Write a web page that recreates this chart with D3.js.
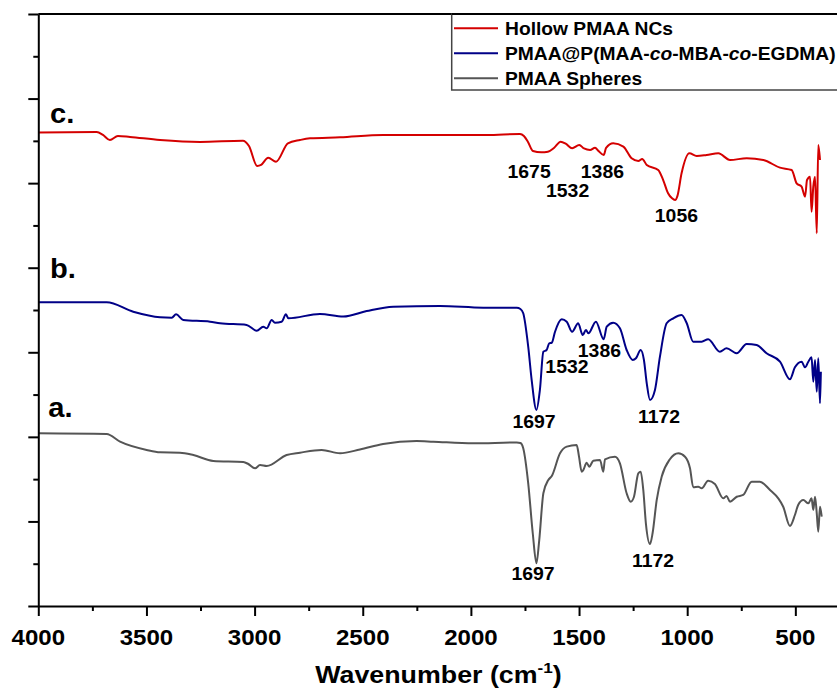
<!DOCTYPE html>
<html>
<head>
<meta charset="utf-8">
<script src="https://cdn.jsdelivr.net/npm/d3@7"></script>
<style>
  html, body { margin: 0; padding: 0; background: #fff; overflow: hidden; }
  svg { display: block; font-family: "Liberation Sans", Arial, Helvetica, sans-serif; }
</style>
</head>
<body>
<svg id="chart" width="837" height="693"></svg>
<script>
// ---- FTIR spectra: [wavenumber (cm-1), transmittance (a.u., stacked offset)] ----
const hollowNCs = [
  [4000,5.600],[3730,5.605],[3701,5.570],[3669,5.510],[3632,5.558],[3576,5.546],[3437,5.510],
  [3252,5.487],[3054,5.502],[3026,5.439],[2988,5.203],[2970,5.215],[2937,5.301],[2901,5.254],
  [2846,5.471],[2790,5.510],[2744,5.530],[2605,5.542],[2406,5.569],[2175,5.569],[1926,5.569],
  [1773,5.581],[1755,5.558],[1736,5.487],[1713,5.380],[1675,5.365],[1644,5.372],[1616,5.416],
  [1585,5.490],[1560,5.463],[1532,5.412],[1499,5.451],[1477,5.410],[1449,5.392],[1426,5.419],
  [1410,5.380],[1386,5.333],[1375,5.416],[1342,5.471],[1295,5.431],[1257,5.294],[1226,5.262],
  [1208,5.286],[1187,5.215],[1134,5.155],[1111,5.037],[1089,4.884],[1070,4.820],[1056,4.800],
  [1045,4.850],[1026,5.116],[990,5.353],[956,5.321],[910,5.333],[856,5.353],[802,5.274],
  [725,5.294],[648,5.274],[571,5.183],[517,5.155],[494,4.998],[471,4.958],[455,4.840],
  [446,5.037],[432,5.076],[425,4.662],[417,4.958],[409,5.076],[401,4.407],[394,5.451],[386,5.274]
];
const coreShell = [
  [4000,3.591],[3684,3.591],[3561,3.480],[3437,3.414],[3383,3.409],[3363,3.449],[3330,3.382],
  [3206,3.362],[3160,3.343],[3037,3.323],[2990,3.255],[2960,3.303],[2944,3.284],[2921,3.382],
  [2906,3.350],[2875,3.362],[2855,3.449],[2844,3.402],[2698,3.453],[2590,3.423],[2482,3.488],
  [2359,3.539],[2143,3.547],[1943,3.527],[1788,3.527],[1771,3.512],[1758,3.461],[1735,3.066],
  [1719,2.672],[1697,2.318],[1681,2.554],[1665,3.007],[1650,3.027],[1638,3.106],[1626,3.113],
  [1611,3.243],[1580,3.390],[1557,3.362],[1532,3.243],[1504,3.343],[1483,3.204],[1468,3.264],
  [1457,3.224],[1422,3.362],[1386,3.154],[1372,3.303],[1342,3.350],[1311,3.284],[1280,3.027],
  [1252,2.909],[1237,2.929],[1215,3.027],[1200,2.909],[1187,2.633],[1172,2.436],[1149,2.554],
  [1126,2.948],[1095,3.343],[1064,3.402],[1026,3.441],[1002,3.343],[972,3.125],[933,3.125],
  [903,3.154],[849,3.007],[818,3.047],[771,2.988],[725,3.098],[679,3.086],[633,2.988],
  [571,2.889],[525,2.681],[502,2.822],[471,2.889],[455,2.822],[440,2.889],[425,2.941],
  [417,2.652],[409,2.909],[401,2.534],[394,2.929],[386,2.397],[382,2.770]
];
const pmaaSpheres = [
  [4000,2.042],[3684,2.034],[3622,1.943],[3499,1.845],[3437,1.817],[3345,1.813],[3283,1.785],
  [3191,1.715],[3052,1.703],[3029,1.679],[2998,1.628],[2975,1.667],[2944,1.655],[2852,1.785],
  [2790,1.813],[2690,1.845],[2605,1.806],[2513,1.851],[2406,1.916],[2251,1.951],[2174,1.943],
  [1989,1.924],[1788,1.933],[1771,1.927],[1758,1.865],[1735,1.451],[1714,0.860],[1697,0.505],
  [1684,0.780],[1665,1.333],[1642,1.490],[1626,1.537],[1588,1.806],[1557,1.884],[1511,1.904],
  [1500,1.765],[1488,1.588],[1480,1.608],[1465,1.694],[1453,1.647],[1434,1.718],[1403,1.726],
  [1388,1.588],[1380,1.735],[1334,1.765],[1311,1.687],[1280,1.333],[1261,1.233],[1246,1.292],
  [1226,1.569],[1215,1.588],[1203,1.372],[1191,0.978],[1172,0.733],[1160,0.860],[1141,1.253],
  [1118,1.529],[1080,1.735],[1041,1.806],[1010,1.765],[987,1.628],[972,1.404],[949,1.411],
  [933,1.392],[903,1.482],[872,1.443],[833,1.273],[818,1.301],[802,1.233],[771,1.292],
  [741,1.313],[702,1.470],[664,1.470],[617,1.372],[579,1.273],[556,1.174],[525,0.946],
  [502,1.076],[487,1.194],[463,1.253],[440,1.214],[425,1.273],[417,1.135],[409,1.292],
  [401,1.096],[394,0.879],[386,1.174],[378,1.056]
];

const seriesNames  = ["Hollow PMAA NCs", "PMAA@P(MAA-co-MBA-co-EGDMA)", "PMAA Spheres"];
const seriesColors = ["#d40000", "#000087", "#555555"];
const seriesData   = [hollowNCs, coreShell, pmaaSpheres];

// trace tags, placed at [wavenumber, transmittance]
const traceTags = [
  { text: "c.", at: [3946, 5.715] },
  { text: "b.", at: [3946, 3.875] },
  { text: "a.", at: [3954, 2.238] }
];

// band assignments (cm-1) and where their labels sit
const peakLabels = [
  { text: "1675", at: [1731, 5.057] },
  { text: "1532", at: [1553, 4.840] },
  { text: "1386", at: [1392, 5.057] },
  { text: "1056", at: [1050, 4.544] },
  { text: "1697", at: [1708, 2.101] },
  { text: "1532", at: [1556, 2.752] },
  { text: "1386", at: [1406, 2.948] },
  { text: "1172", at: [1130, 2.167] },
  { text: "1697", at: [1713, 0.307] },
  { text: "1172", at: [1158, 0.465] }
];

const xMajorTicks = [4000, 3500, 3000, 2500, 2000, 1500, 1000, 500];
const xMinorTicks = [3750, 3250, 2750, 2250, 1750, 1250, 750];
const yMajorTicks = [0, 1, 2, 3, 4, 5, 6, 7];
const yMinorTicks = [0.5, 1.5, 2.5, 3.5, 4.5, 5.5, 6.5];

(function draw() {
  const svg = d3.select("#chart");
  const plotLeft = 38.3, plotRight = 838.6, plotTop = 14, plotBottom = 606;

  const x = d3.scaleLinear().domain([4000, 300]).range([plotLeft, plotRight]);
  const y = d3.scaleLinear().domain([0, 7]).range([plotBottom, plotTop]);

  const FONT = '"Liberation Sans", Arial, Helvetica, sans-serif';

  function stretchedText(parent, px, py, sx) {
    return parent.append("text")
      .attr("transform", `translate(${px},${py}) scale(${sx},1)`)
      .attr("font-family", FONT)
      .attr("font-weight", "bold")
      .attr("fill", "#000");
  }

  // ---- spectra ----
  const line = d3.line()
    .x(d => x(d[0]))
    .y(d => y(d[1]))
    .curve(d3.curveMonotoneX);

  const traces = svg.append("g");
  // bottom trace first so the upper ones sit on top
  [2, 1, 0].forEach(i => {
    traces.append("path")
      .datum(seriesData[i])
      .attr("d", line)
      .attr("fill", "none")
      .attr("stroke", seriesColors[i])
      .attr("stroke-width", 2)
      .attr("stroke-linejoin", "round");
  });

  // ---- axes ----
  const axisStyle = g => {
    g.selectAll("path, line").attr("stroke", "#000").attr("stroke-width", 2);
    g.selectAll("text").remove();
  };

  svg.append("g")
    .attr("transform", `translate(0,${plotBottom})`)
    .call(d3.axisBottom(x).tickValues(xMajorTicks).tickSize(10).tickSizeOuter(0))
    .call(axisStyle);
  svg.append("g")
    .attr("transform", `translate(0,${plotBottom})`)
    .call(d3.axisBottom(x).tickValues(xMinorTicks).tickSize(5).tickSizeOuter(0))
    .call(axisStyle)
    .select(".domain").remove();

  svg.append("g")
    .attr("transform", `translate(${plotLeft},0)`)
    .call(d3.axisLeft(y).tickValues(yMajorTicks).tickSize(10).tickSizeOuter(0))
    .call(axisStyle);
  svg.append("g")
    .attr("transform", `translate(${plotLeft},0)`)
    .call(d3.axisLeft(y).tickValues(yMinorTicks).tickSize(5).tickSizeOuter(0))
    .call(axisStyle)
    .select(".domain").remove();

  // top and right frame
  svg.append("line")
    .attr("x1", plotLeft).attr("x2", plotRight).attr("y1", plotTop).attr("y2", plotTop)
    .attr("stroke", "#000").attr("stroke-width", 2);
  svg.append("line")
    .attr("x1", plotRight).attr("x2", plotRight).attr("y1", plotTop).attr("y2", plotBottom)
    .attr("stroke", "#000").attr("stroke-width", 2);

  // x tick labels
  const tickLabels = svg.append("g");
  xMajorTicks.forEach(v => {
    stretchedText(tickLabels, x(v), 645, 1.12)
      .attr("text-anchor", "middle")
      .attr("font-size", 21.5)
      .text(d3.format("d")(v));
  });

  // x axis title
  const title = stretchedText(svg, (plotLeft + plotRight) / 2, 683, 1.14)
    .attr("text-anchor", "middle")
    .attr("font-size", 23.5);
  title.append("tspan").text("Wavenumber (cm");
  title.append("tspan").attr("font-size", 15).attr("dy", -10).text("-1");
  title.append("tspan").attr("dy", 10).text(")");

  // ---- trace tags and band labels ----
  traceTags.forEach(t => {
    stretchedText(svg, x(t.at[0]), y(t.at[1]), 1.04)
      .attr("font-size", 28)
      .text(t.text);
  });
  peakLabels.forEach(p => {
    stretchedText(svg, x(p.at[0]), y(p.at[1]), 1.05)
      .attr("text-anchor", "middle")
      .attr("font-size", 18.5)
      .text(p.text);
  });

  // ---- legend ----
  const legend = svg.append("g");
  legend.append("rect")
    .attr("x", 451.7).attr("y", plotTop)
    .attr("width", 420).attr("height", 76)
    .attr("fill", "#fff")
    .attr("stroke", "#444").attr("stroke-width", 1.5);

  const legendRowY = [28.3, 53.3, 78.3];
  seriesNames.forEach((name, i) => {
    const ly = legendRowY[i];
    legend.append("line")
      .attr("x1", 454).attr("x2", 498).attr("y1", ly).attr("y2", ly)
      .attr("stroke", seriesColors[i]).attr("stroke-width", 2);
    const t = stretchedText(legend, 505, ly + 6.7, 1.04).attr("font-size", 18.5);
    // italicise the "co" connectors of the copolymer name
    name.split(/(-co-)/).forEach(part => {
      if (part === "-co-") {
        t.append("tspan").text("-");
        t.append("tspan").attr("font-style", "italic").text("co");
        t.append("tspan").text("-");
      } else {
        t.append("tspan").text(part);
      }
    });
  });
  // frame's top edge drawn over the legend border
  svg.append("line")
    .attr("x1", 451.7).attr("x2", plotRight).attr("y1", plotTop).attr("y2", plotTop)
    .attr("stroke", "#000").attr("stroke-width", 2);
})();
</script>
</body>
</html>
